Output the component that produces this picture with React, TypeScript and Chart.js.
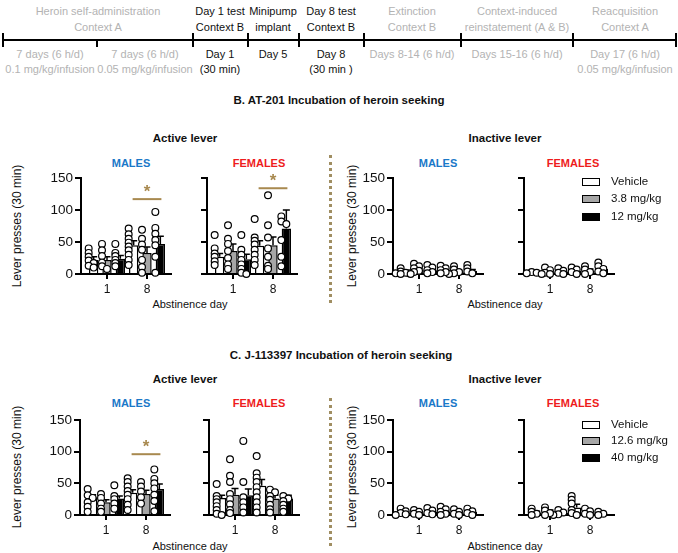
import React, { useEffect, useRef } from 'react';
import { Chart, registerables } from 'chart.js';

Chart.register(...registerables);

// ---------------- data ----------------
const days = ['1', '8'];
const dayIndex = [0, 1];
const yTicks = [0, 50, 100, 150];
const dosesB = ['Vehicle', '3.8 mg/kg', '12 mg/kg'];
const dosesC = ['Vehicle', '12.6 mg/kg', '40 mg/kg'];

// [dose][day]  (dose: vehicle, low, high; day: 1, 8)
const bActMaleMean = [[22, 45], [22, 33], [24, 47]];
const bActMaleSem = [[5, 7], [5, 9], [5, 12]];
const bActMalePts = [
  [[40, 33, 27, 21, 17, 13, 10], [71, 62, 55, 49, 43, 37, 30, 22, 14]],
  [[47, 37, 28, 18, 12, 8], [69, 55, 46, 38, 22, 11, 2]],
  [[47, 33, 28, 22, 17, 12], [97, 72, 63, 53, 45, 27, 2]],
];

const bActFemMean = [[27, 44], [36, 45], [23, 71]];
const bActFemSem = [[5, 8], [11, 13], [8, 29]];
const bActFemPts = [
  [[61, 40, 32, 27, 20, 14], [86, 57, 52, 46, 38, 30, 22, 14]],
  [[76, 55, 47, 36, 25, 15, 8], [123, 76, 57, 40, 27, 13, 8]],
  [[61, 38, 30, 22, 15, 8, 2, 0], [90, 82, 78, 53, 27, 12]],
];

const bInactMaleMean = [[3, 6], [7, 4], [6, 5]];
const bInactMaleSem = [[2, 2], [2, 2], [2, 2]];
const bInactMalePts = [
  [[9, 4, 2, 1, 0, 0], [13, 9, 6, 3, 1]],
  [[16, 12, 9, 5, 3, 1], [12, 7, 3, 1, 0]],
  [[14, 10, 6, 3, 1], [14, 9, 4, 1]],
];

const bInactFemMean = [[2, 5], [4, 5], [4, 8]];
const bInactFemSem = [[1, 2], [2, 3], [2, 3]];
const bInactFemPts = [
  [[3, 2, 1, 0], [10, 7, 3, 0]],
  [[10, 6, 2, 0], [12, 7, 3, 0]],
  [[9, 5, 2, 0], [18, 12, 8, 4, 1]],
];

const cActMaleMean = [[28, 35], [20, 33], [26, 41]];
const cActMaleSem = [[4, 5], [4, 6], [4, 8]];
const cActMalePts = [
  [[41, 31, 27, 20, 13, 5], [58, 52, 45, 38, 32, 25, 16, 8]],
  [[33, 27, 18, 10, 5], [52, 45, 37, 28, 18]],
  [[47, 30, 25, 18, 10], [72, 57, 50, 42, 32, 22, 6]],
];

const cActFemMean = [[27, 46], [32, 26], [31, 26]];
const cActFemSem = [[4, 10], [10, 5], [10, 5]];
const cActFemPts = [
  [[49, 30, 25, 20, 14, 8, 2, 0], [93, 66, 59, 52, 44, 36, 28, 20, 12, 4]],
  [[88, 62, 52, 33, 25, 17, 8, 3], [40, 36, 30, 24, 16, 9, 4]],
  [[117, 52, 28, 20, 12, 4], [30, 26, 22, 16, 10, 5]],
];

const cInactMaleMean = [[4, 6], [4, 4], [5, 5]];
const cInactMaleSem = [[2, 2], [2, 2], [2, 2]];
const cInactMalePts = [
  [[10, 6, 3, 1, 0], [13, 9, 5, 2, 0]],
  [[8, 5, 2, 0], [9, 5, 2, 0]],
  [[11, 7, 3, 1], [10, 6, 3, 0]],
];

const cInactFemMean = [[4, 12], [5, 4], [3, 2]];
const cInactFemSem = [[2, 5], [3, 2], [2, 1]];
const cInactFemPts = [
  [[10, 5, 2, 0], [30, 24, 18, 8, 3, 0]],
  [[12, 7, 3, 0], [10, 6, 2, 0]],
  [[8, 4, 1, 0], [5, 2, 0]],
];

// significance bars (value level on day 8), null = none
const sigBActMale = 117;
const sigBActFem = 134;
const sigCActMale = 96;

// ---------------- layout / style ----------------
const FONT = '"Liberation Sans", Arial, Helvetica, sans-serif';
const PX_PER_DAY = 40;
const PLOT_W = 90;
const Y_AXIS_W = 36;
const PAD_TOP = 18;
const X_AXIS_H = 24;
const PAD_RIGHT = 8;
const X_MIN = -0.65;
const X_MAX = X_MIN + PLOT_W / PX_PER_DAY;
const barColors = ['#ffffff', '#a6a6a6', '#000000'];
const SIG = '#a8894f';
const GREY = '#b3b3b3';
const BLUE = '#1a78c8';
const RED = '#ee1c1c';

function swarm(values: number[], pxPerUnit: number): number[] {
  const placed: { y: number; x: number }[] = [];
  const cands = [0, 5, -5, 10];
  return values.map((v) => {
    const y = v * pxPerUnit;
    for (const c of cands) {
      if (!placed.some((p) => Math.abs(p.y - y) < 3 && Math.abs(p.x - c) < 5)) {
        placed.push({ y, x: c });
        return c;
      }
    }
    placed.push({ y, x: 0 });
    return 0;
  });
}

const errPlugin = {
  id: 'errbars',
  afterDatasetDraw(chart: any, args: any) {
    const ds = chart.data.datasets[args.index];
    if (ds.type !== 'bar') return;
    const ctx = chart.ctx;
    const ys = chart.scales.y;
    args.meta.data.forEach((el: any, d: number) => {
      const mean = ds.data[d].y;
      const e = ds.sem[d];
      const x = el.x;
      const y0 = ys.getPixelForValue(mean);
      const y1 = ys.getPixelForValue(mean + e);
      ctx.save();
      ctx.strokeStyle = '#000';
      ctx.lineWidth = 1.5;
      ctx.beginPath();
      ctx.moveTo(x, y0);
      ctx.lineTo(x, y1);
      ctx.moveTo(x - 3.5, y1);
      ctx.lineTo(x + 3.5, y1);
      ctx.stroke();
      ctx.restore();
    });
  },
};

type PanelProps = {
  x: number;
  yTop: number;
  plotH: number;
  means: number[][];
  sems: number[][];
  pts: number[][][];
  sig: number | null;
  showY: boolean;
};

function Panel({ x, yTop, plotH, means, sems, pts, sig, showY }: PanelProps) {
  const ref = useRef<HTMLCanvasElement>(null);
  const W = Y_AXIS_W + PLOT_W + PAD_RIGHT;
  const H = PAD_TOP + plotH + X_AXIS_H;
  useEffect(() => {
    const canvas = ref.current!;
    const pxPerUnit = plotH / 150;
    const slot = 1 / 3;
    const datasets: any[] = [];
    means.forEach((m, i) => {
      datasets.push({
        type: 'bar',
        data: m.map((v, d) => ({ x: dayIndex[d], y: v })),
        sem: sems[i],
        backgroundColor: barColors[i],
        borderColor: '#000',
        borderWidth: 1.5,
        categoryPercentage: 1,
        barPercentage: 0.7,
        order: 2,
      });
    });
    pts.forEach((perDay, i) => {
      const data: any[] = [];
      perDay.forEach((vals, d) => {
        const offs = swarm(vals, pxPerUnit);
        vals.forEach((v, k) =>
          data.push({ x: dayIndex[d] + (i - 1) * slot + (offs[k] - 5) / PX_PER_DAY, y: v })
        );
      });
      datasets.push({
        type: 'scatter',
        data,
        pointRadius: 3.4,
        pointBackgroundColor: '#fff',
        pointBorderColor: '#000',
        pointBorderWidth: 1.2,
        order: 1,
        clip: false,
      });
    });
    const sigPlugin = {
      id: 'sig',
      afterDraw(chart: any) {
        if (sig == null) return;
        const xs = chart.scales.x;
        const ys = chart.scales.y;
        const ctx = chart.ctx;
        const x0 = xs.getPixelForValue(1 - 0.36);
        const x1 = xs.getPixelForValue(1 + 0.36);
        const y = ys.getPixelForValue(sig);
        ctx.save();
        ctx.strokeStyle = SIG;
        ctx.lineWidth = 2;
        ctx.beginPath();
        ctx.moveTo(x0, y);
        ctx.lineTo(x1, y);
        ctx.stroke();
        ctx.fillStyle = SIG;
        ctx.font = `bold 17px ${FONT}`;
        ctx.textAlign = 'center';
        ctx.textBaseline = 'middle';
        ctx.fillText('*', xs.getPixelForValue(1), y - 7);
        ctx.restore();
      },
    };
    const chart = new Chart(canvas, {
      type: 'bar',
      data: { datasets },
      options: {
        animation: false,
        responsive: false,
        maintainAspectRatio: false,
        devicePixelRatio: 1,
        events: [],
        layout: { padding: { top: PAD_TOP, right: PAD_RIGHT, left: 0, bottom: 0 } },
        plugins: { legend: { display: false }, tooltip: { enabled: false } },
        scales: {
          x: {
            type: 'linear',
            offset: false,
            min: X_MIN,
            max: X_MAX,
            afterBuildTicks: (s: any) => {
              s.ticks = dayIndex.map((v) => ({ value: v }));
            },
            afterFit: (s: any) => {
              s.height = X_AXIS_H;
            },
            grid: { display: true, offset: false, drawOnChartArea: false, drawTicks: true, tickLength: 5, color: '#000', lineWidth: 2 },
            border: { display: true, color: '#000', width: 2 },
            ticks: {
              callback: (v: any) => days[Math.round(Number(v))],
              color: '#111',
              font: { family: FONT, size: 12 },
              padding: 3,
              autoSkip: false,
              maxRotation: 0,
            },
          },
          y: {
            type: 'linear',
            min: 0,
            max: 150,
            afterBuildTicks: (s: any) => {
              s.ticks = yTicks.map((v) => ({ value: v }));
            },
            afterFit: (s: any) => {
              s.width = Y_AXIS_W;
            },
            grid: { display: true, drawOnChartArea: false, drawTicks: true, tickLength: 6, color: '#000', lineWidth: 2 },
            border: { display: true, color: '#000', width: 2 },
            ticks: {
              color: showY ? '#111' : 'rgba(0,0,0,0)',
              font: { family: FONT, size: 13.5 },
              padding: 2,
            },
          },
        },
      } as any,
      plugins: [errPlugin, sigPlugin],
    });
    return () => chart.destroy();
  }, []);
  return (
    <canvas
      ref={ref}
      width={W}
      height={H}
      style={{ position: 'absolute', left: x - Y_AXIS_W, top: yTop - PAD_TOP, width: W, height: H }}
    />
  );
}

function T({ x, y, children, size = 11, bold = false, color = '#111', rotate = false }: any) {
  return (
    <div
      style={{
        position: 'absolute',
        left: x,
        top: y,
        transform: `translate(-50%, -50%)${rotate ? ' rotate(-90deg)' : ''}`,
        fontSize: size,
        fontWeight: bold ? 700 : 400,
        color,
        whiteSpace: 'nowrap',
        lineHeight: 1,
        fontFamily: FONT,
      }}
    >
      {children}
    </div>
  );
}

function Legend({ x, ys, labels }: { x: number; ys: number[]; labels: string[] }) {
  return (
    <>
      {labels.map((l, i) => (
        <React.Fragment key={l}>
          <div
            style={{
              position: 'absolute',
              left: x,
              top: ys[i] - 4.5,
              width: 16,
              height: 6,
              border: '1.5px solid #000',
              background: barColors[i],
            }}
          />
          <div
            style={{
              position: 'absolute',
              left: x + 29,
              top: ys[i],
              transform: 'translateY(-50%)',
              fontSize: 11.5,
              fontFamily: FONT,
              color: '#111',
              whiteSpace: 'nowrap',
              lineHeight: 1,
            }}
          >
            {l}
          </div>
        </React.Fragment>
      ))}
    </>
  );
}

const timelineTicks = [3, 97, 193, 248, 299, 364, 461, 573, 676];
const timelineTop: [number, string[], boolean][] = [
  [98, ['Heroin self-administration', 'Context A'], false],
  [220, ['Day 1 test', 'Context B'], true],
  [273, ['Minipump', 'implant'], true],
  [331, ['Day 8 test', 'Context B'], true],
  [412, ['Extinction', 'Context B'], false],
  [517, ['Context-induced', 'reinstatement (A & B)'], false],
  [625, ['Reacquisition', 'Context A'], false],
];
const timelineBottom: [number, string[], boolean][] = [
  [50, ['7 days (6 h/d)', '0.1 mg/kg/infusion'], false],
  [145, ['7 days (6 h/d)', '0.05 mg/kg/infusion'], false],
  [220, ['Day 1', '(30 min)'], true],
  [273, ['Day 5'], true],
  [331, ['Day 8', '(30 min )'], true],
  [412, ['Days 8-14 (6 h/d)'], false],
  [517, ['Days 15-16 (6 h/d)'], false],
  [625, ['Day 17 (6 h/d)', '0.05 mg/kg/infusion'], false],
];

export default function App() {
  const bTop = 178;
  const cTop = 420;
  return (
    <div
      style={{
        position: 'absolute',
        left: 0,
        top: 0,
        width: 678,
        height: 553,
        background: '#fff',
        overflow: 'hidden',
        fontFamily: FONT,
      }}
    >
      {/* timeline */}
      <div style={{ position: 'absolute', left: 3, top: 39, width: 673, height: 2, background: '#000' }} />
      {timelineTicks.map((tx) => (
        <div
          key={tx}
          style={{
            position: 'absolute',
            left: tx - 1,
            top: tx === 97 ? 40 : 33,
            width: 2,
            height: tx === 97 ? 7 : 14,
            background: '#000',
          }}
        />
      ))}
      {timelineTop.map(([tx, lines, dark]) =>
        lines.map((s, i) => (
          <T key={`t${tx}${i}`} x={tx} y={11 + i * 16} color={dark ? '#111' : GREY}>
            {s}
          </T>
        ))
      )}
      {timelineBottom.map(([tx, lines, dark]) =>
        lines.map((s, i) => (
          <T key={`b${tx}${i}`} x={tx} y={54 + i * 15} color={dark ? '#111' : GREY}>
            {s}
          </T>
        ))
      )}

      {/* Panel B */}
      <T x={339} y={101} size={11.5} bold>
        B. AT-201 Incubation of heroin seeking
      </T>
      <T x={185} y={139} size={11.5} bold>Active lever</T>
      <T x={505} y={139} size={11.5} bold>Inactive lever</T>
      <T x={131} y={163} bold color={BLUE}>MALES</T>
      <T x={259} y={163} bold color={RED}>FEMALES</T>
      <T x={438} y={163} bold color={BLUE}>MALES</T>
      <T x={573} y={163} bold color={RED}>FEMALES</T>
      <T x={17} y={226} size={12} rotate>Lever presses (30 min)</T>
      <T x={352} y={226} size={12} rotate>Lever presses (30 min)</T>
      <T x={190} y={304} size={11}>Abstinence day</T>
      <T x={505} y={304} size={11}>Abstinence day</T>
      <div style={{ position: 'absolute', left: 329, top: 155, height: 148, borderLeft: '3px dotted #a08e62' }} />
      <Panel x={81} yTop={bTop} plotH={96} means={bActMaleMean} sems={bActMaleSem} pts={bActMalePts} sig={sigBActMale} showY />
      <Panel x={207} yTop={bTop} plotH={96} means={bActFemMean} sems={bActFemSem} pts={bActFemPts} sig={sigBActFem} showY={false} />
      <Panel x={393} yTop={bTop} plotH={96} means={bInactMaleMean} sems={bInactMaleSem} pts={bInactMalePts} sig={null} showY />
      <Panel x={524} yTop={bTop} plotH={96} means={bInactFemMean} sems={bInactFemSem} pts={bInactFemPts} sig={null} showY={false} />
      <Legend x={582} ys={[182, 199, 217]} labels={dosesB} />

      {/* Panel C */}
      <T x={341} y={356} size={11.5} bold>
        C. J-113397 Incubation of heroin seeking
      </T>
      <T x={185} y={380} size={11.5} bold>Active lever</T>
      <T x={505} y={380} size={11.5} bold>Inactive lever</T>
      <T x={131} y={403} bold color={BLUE}>MALES</T>
      <T x={259} y={403} bold color={RED}>FEMALES</T>
      <T x={438} y={403} bold color={BLUE}>MALES</T>
      <T x={573} y={403} bold color={RED}>FEMALES</T>
      <T x={17} y={467} size={12} rotate>Lever presses (30 min)</T>
      <T x={352} y={467} size={12} rotate>Lever presses (30 min)</T>
      <T x={190} y={546} size={11}>Abstinence day</T>
      <T x={505} y={546} size={11}>Abstinence day</T>
      <div style={{ position: 'absolute', left: 329, top: 398, height: 148, borderLeft: '3px dotted #a08e62' }} />
      <Panel x={80} yTop={cTop} plotH={95} means={cActMaleMean} sems={cActMaleSem} pts={cActMalePts} sig={sigCActMale} showY />
      <Panel x={209} yTop={cTop} plotH={95} means={cActFemMean} sems={cActFemSem} pts={cActFemPts} sig={null} showY={false} />
      <Panel x={393} yTop={cTop} plotH={95} means={cInactMaleMean} sems={cInactMaleSem} pts={cInactMalePts} sig={null} showY />
      <Panel x={524} yTop={cTop} plotH={95} means={cInactFemMean} sems={cInactFemSem} pts={cInactFemPts} sig={null} showY={false} />
      <Legend x={582} ys={[425, 441, 458]} labels={dosesC} />
    </div>
  );
}
